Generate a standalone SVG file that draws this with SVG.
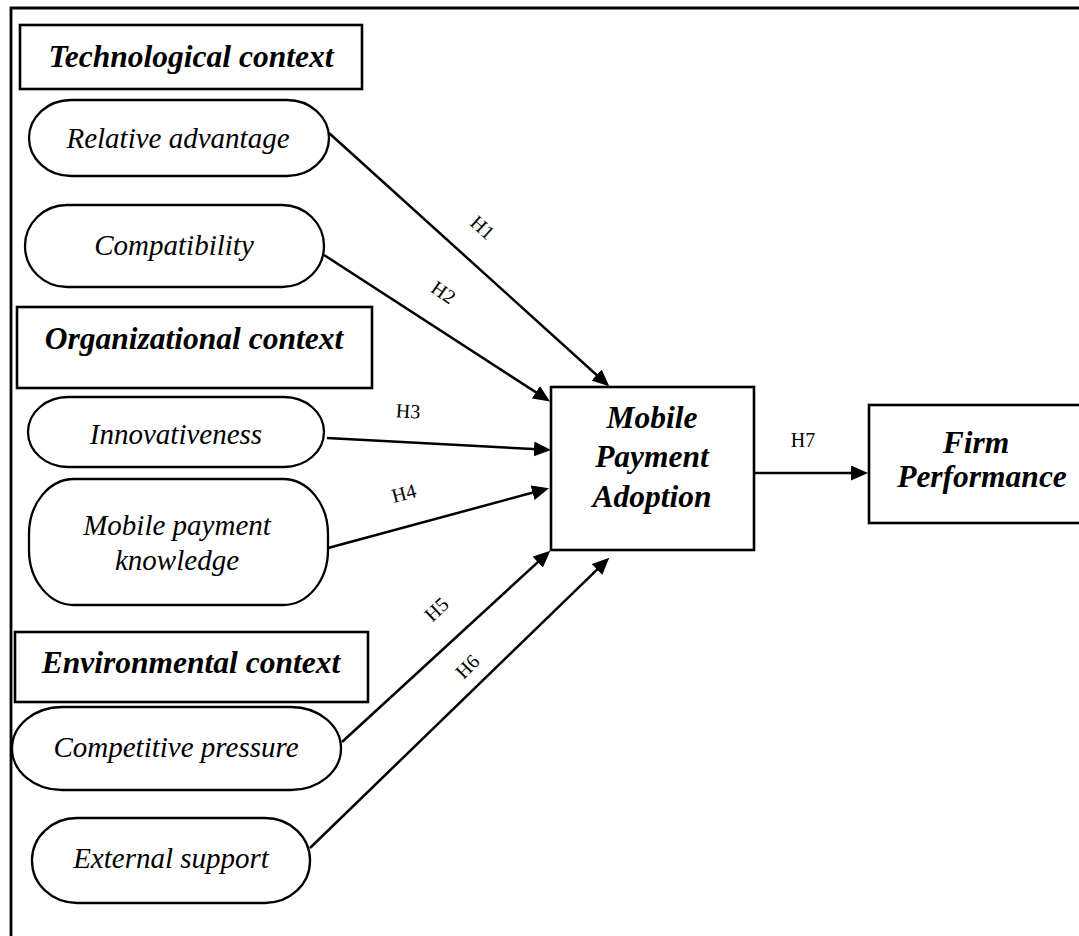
<svg xmlns="http://www.w3.org/2000/svg" width="1079" height="936" viewBox="0 0 1079 936">
<style>
.frame{fill:none;stroke:#000;stroke-width:2.8}
.box{fill:#fff;stroke:#000;stroke-width:2.6}
.pill{fill:#fff;stroke:#000;stroke-width:2.3}
.hd{font-family:"Liberation Serif","Times New Roman",serif;font-weight:bold;font-style:italic;font-size:31.5px;text-anchor:middle;fill:#000}
.lb{font-family:"Liberation Serif","Times New Roman",serif;font-style:italic;font-size:29px;text-anchor:middle;fill:#000}
.h{font-family:"Liberation Serif","Times New Roman",serif;font-size:20px;text-anchor:middle;fill:#000}
.ln{fill:none;stroke:#000;stroke-width:2.5}
</style>
<defs>
<marker id="ah" markerUnits="userSpaceOnUse" markerWidth="17" markerHeight="15" refX="9" refY="7.5" orient="auto">
<path d="M0,0 L17,7.5 L0,15 z" fill="#000"/>
</marker>
</defs>
<rect x="0" y="0" width="1079" height="936" fill="#fff"/>
<path class="frame" d="M11,936 L11,8 L1079,8"/>

<g id="tech-context">
<rect class="box" x="20" y="25" width="342" height="64"/>
<text class="hd" x="191" y="67">Technological context</text>
</g>
<g id="relative-advantage">
<rect class="pill" x="29" y="100" width="300" height="76" rx="42" ry="38"/>
<text class="lb" x="178" y="148">Relative advantage</text>
</g>
<g id="compatibility">
<rect class="pill" x="25" y="205" width="299" height="82" rx="42" ry="41"/>
<text class="lb" x="174" y="255">Compatibility</text>
</g>

<g id="org-context">
<rect class="box" x="17" y="307" width="355" height="81"/>
<text class="hd" x="194" y="349">Organizational context</text>
</g>
<g id="innovativeness">
<rect class="pill" x="28" y="397" width="296" height="70" rx="40" ry="35"/>
<text class="lb" x="176" y="444">Innovativeness</text>
</g>
<g id="mp-knowledge">
<rect class="pill" x="29" y="479" width="299" height="126" rx="45" ry="55"/>
<text class="lb" x="177" y="535">Mobile payment</text>
<text class="lb" x="177" y="570">knowledge</text>
</g>

<g id="env-context">
<rect class="box" x="15" y="632" width="353" height="70"/>
<text class="hd" x="191" y="673">Environmental context</text>
</g>
<g id="competitive-pressure">
<rect class="pill" x="12" y="707" width="329" height="83" rx="50" ry="41.5"/>
<text class="lb" x="176" y="757">Competitive pressure</text>
</g>
<g id="external-support">
<rect class="pill" x="32" y="818" width="278" height="85" rx="45" ry="42"/>
<text class="lb" x="171" y="868">External support</text>
</g>

<g id="mpa">
<rect class="box" x="551" y="387" width="203" height="163"/>
<text class="hd" x="652" y="428">Mobile</text>
<text class="hd" x="652" y="467">Payment</text>
<text class="hd" x="652" y="507">Adoption</text>
</g>
<g id="firm-performance">
<rect class="box" x="869" y="405" width="222" height="118"/>
<text class="hd" x="976" y="453">Firm</text>
<text class="hd" x="982" y="487">Performance</text>
</g>

<g id="connectors">
<line class="ln" x1="329" y1="133" x2="603.3" y2="381" marker-end="url(#ah)"/>
<line class="ln" x1="324" y1="255" x2="543.4" y2="397.1" marker-end="url(#ah)"/>
<line class="ln" x1="327" y1="438" x2="543" y2="449.5" marker-end="url(#ah)"/>
<line class="ln" x1="328" y1="548" x2="541.3" y2="490.3" marker-end="url(#ah)"/>
<line class="ln" x1="342" y1="742" x2="544.4" y2="556.1" marker-end="url(#ah)"/>
<line class="ln" x1="310" y1="848" x2="603.5" y2="563.3" marker-end="url(#ah)"/>
<line class="ln" x1="755" y1="473" x2="860" y2="473" marker-end="url(#ah)"/>
<text class="h" transform="translate(482,228) rotate(42)" x="0" y="6">H1</text>
<text class="h" transform="translate(443,293) rotate(35)" x="0" y="6">H2</text>
<text class="h" transform="translate(408,412) rotate(3)" x="0" y="6">H3</text>
<text class="h" transform="translate(404,494) rotate(-15)" x="0" y="6">H4</text>
<text class="h" transform="translate(437,610) rotate(-43)" x="0" y="6">H5</text>
<text class="h" transform="translate(468,667) rotate(-45)" x="0" y="6">H6</text>
<text class="h" x="803" y="447">H7</text>
</g>
</svg>
